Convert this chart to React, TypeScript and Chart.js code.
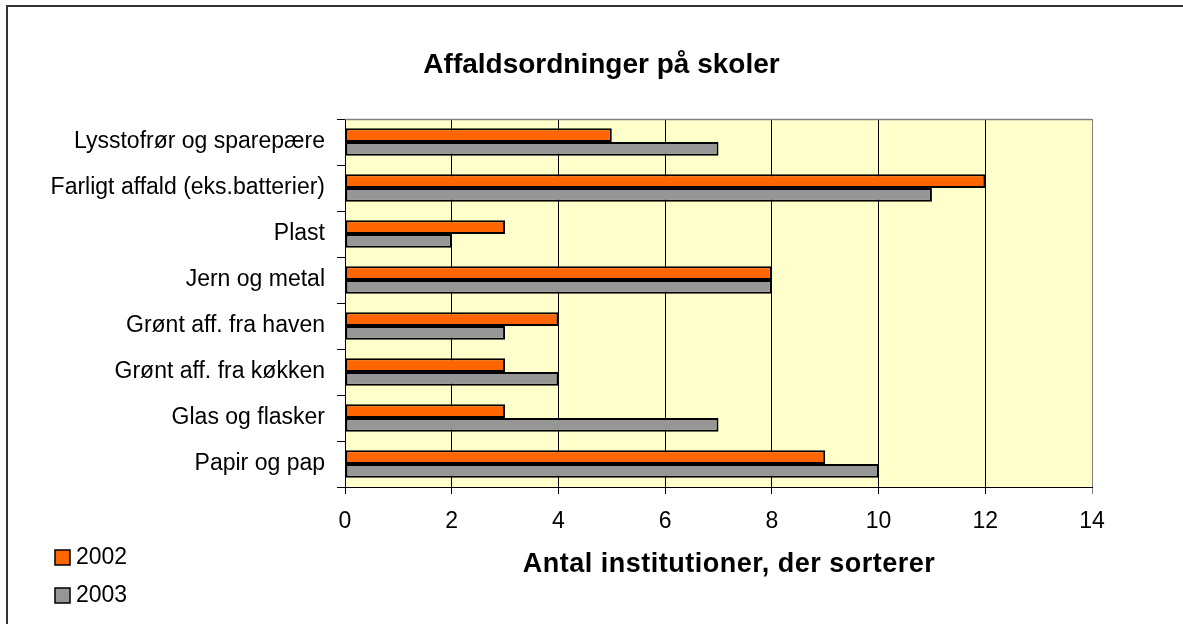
import React, { useEffect, useRef } from 'react';
import { Chart, registerables } from 'chart.js';

Chart.register(...registerables);

const categories = [
  'Lysstofrør og sparepære',
  'Farligt affald (eks.batterier)',
  'Plast',
  'Jern og metal',
  'Grønt aff. fra haven',
  'Grønt aff. fra køkken',
  'Glas og flasker',
  'Papir og pap',
];
const values2002 = [5, 12, 3, 8, 4, 3, 3, 9];
const values2003 = [7, 11, 2, 8, 3, 4, 7, 10];
const seriesLabels = ['2002', '2003'];
const seriesColors = ['#FF6600', '#969696'];
const xMin = 0;
const xMax = 14;
const xStep = 2;
const chartTitle = 'Affaldsordninger på skoler';
const axisTitle = 'Antal institutioner, der sorterer';

const W = 1183;
const H = 624;
const FONT = '"Liberation Sans", Arial, sans-serif';

const decor = {
  id: 'decor',
  beforeDraw(chart: any) {
    const { ctx, chartArea: a } = chart;
    ctx.save();
    ctx.fillStyle = '#ffffff';
    ctx.fillRect(0, 0, W, H);
    ctx.fillStyle = '#FFFFCC';
    ctx.fillRect(a.left, a.top, a.right - a.left, a.bottom - a.top);
    ctx.restore();
  },
  afterDraw(chart: any) {
    const { ctx, chartArea: a } = chart;
    ctx.save();
    // plot area top border
    ctx.strokeStyle = '#808080';
    ctx.lineWidth = 1.5;
    ctx.beginPath();
    ctx.moveTo(a.left, a.top + 0.5);
    ctx.lineTo(a.right, a.top + 0.5);
    ctx.stroke();
    // outer chart border
    ctx.strokeStyle = '#333333';
    ctx.lineWidth = 2;
    ctx.strokeRect(7, 6, W + 20, H + 20);
    // title
    ctx.fillStyle = '#000';
    ctx.textAlign = 'center';
    ctx.textBaseline = 'alphabetic';
    ctx.font = `bold 28px ${FONT}`;
    ctx.fillText(chartTitle, 601.5, 73);
    // axis title
    ctx.font = `bold 27px ${FONT}`;
    try { (ctx as any).letterSpacing = '0.5px'; } catch (e) {}
    ctx.fillText(axisTitle, 729, 572);
    try { (ctx as any).letterSpacing = '0px'; } catch (e) {}
    // legend
    ctx.textAlign = 'left';
    ctx.font = `23px ${FONT}`;
    chart.data.datasets.forEach((ds: any, i: number) => {
      const y = 550 + i * 38;
      ctx.fillStyle = ds.backgroundColor;
      ctx.fillRect(55, y, 15, 15);
      ctx.strokeStyle = '#000';
      ctx.lineWidth = 1.5;
      ctx.strokeRect(55, y, 15, 15);
      ctx.fillStyle = '#000';
      ctx.fillText(ds.label, 76, y + 13.5);
    });
    ctx.restore();
  },
};

export default function App() {
  const ref = useRef<HTMLCanvasElement | null>(null);
  useEffect(() => {
    if (!ref.current) return;
    Chart.defaults.font.family = FONT;
    Chart.defaults.color = '#000';
    const chart = new Chart(ref.current, {
      type: 'bar',
      data: {
        labels: categories,
        datasets: [
          {
            label: seriesLabels[0],
            data: values2002,
            backgroundColor: seriesColors[0],
            borderColor: '#000',
            borderWidth: 2,
            borderSkipped: false,
            categoryPercentage: 0.6,
            barPercentage: 1,
          },
          {
            label: seriesLabels[1],
            data: values2003,
            backgroundColor: seriesColors[1],
            borderColor: '#000',
            borderWidth: 2,
            borderSkipped: false,
            categoryPercentage: 0.6,
            barPercentage: 1,
          },
        ],
      },
      options: {
        indexAxis: 'y',
        responsive: false,
        animation: false,
        events: [],
        layout: { padding: { left: 0, top: 119, right: 91, bottom: 0 } },
        plugins: {
          legend: { display: false },
          title: { display: false },
          tooltip: { enabled: false },
        },
        scales: {
          x: {
            min: xMin,
            max: xMax,
            ticks: { stepSize: xStep, font: { size: 23 }, color: '#000', padding: 14 },
            grid: {
              color: (c: any) => (c.tick && c.tick.value === xMax ? '#808080' : '#000'),
              lineWidth: 1,
              tickLength: 7,
            },
            border: { color: '#000', width: 1 },
            afterFit: (s: any) => {
              s.height = 137;
            },
          },
          y: {
            ticks: { font: { size: 23 }, color: '#000', padding: 12 },
            grid: { drawOnChartArea: false, color: '#000', tickLength: 8 },
            border: { color: '#000', width: 1 },
            afterFit: (s: any) => {
              s.width = 345;
            },
          },
        },
      },
      plugins: [decor],
    } as any);
    return () => chart.destroy();
  }, []);
  return (
    <div style={{ position: 'absolute', left: 0, top: 0, width: W, height: H, background: '#fff' }}>
      <canvas ref={ref} width={W} height={H} style={{ display: 'block', width: W, height: H }} />
    </div>
  );
}
